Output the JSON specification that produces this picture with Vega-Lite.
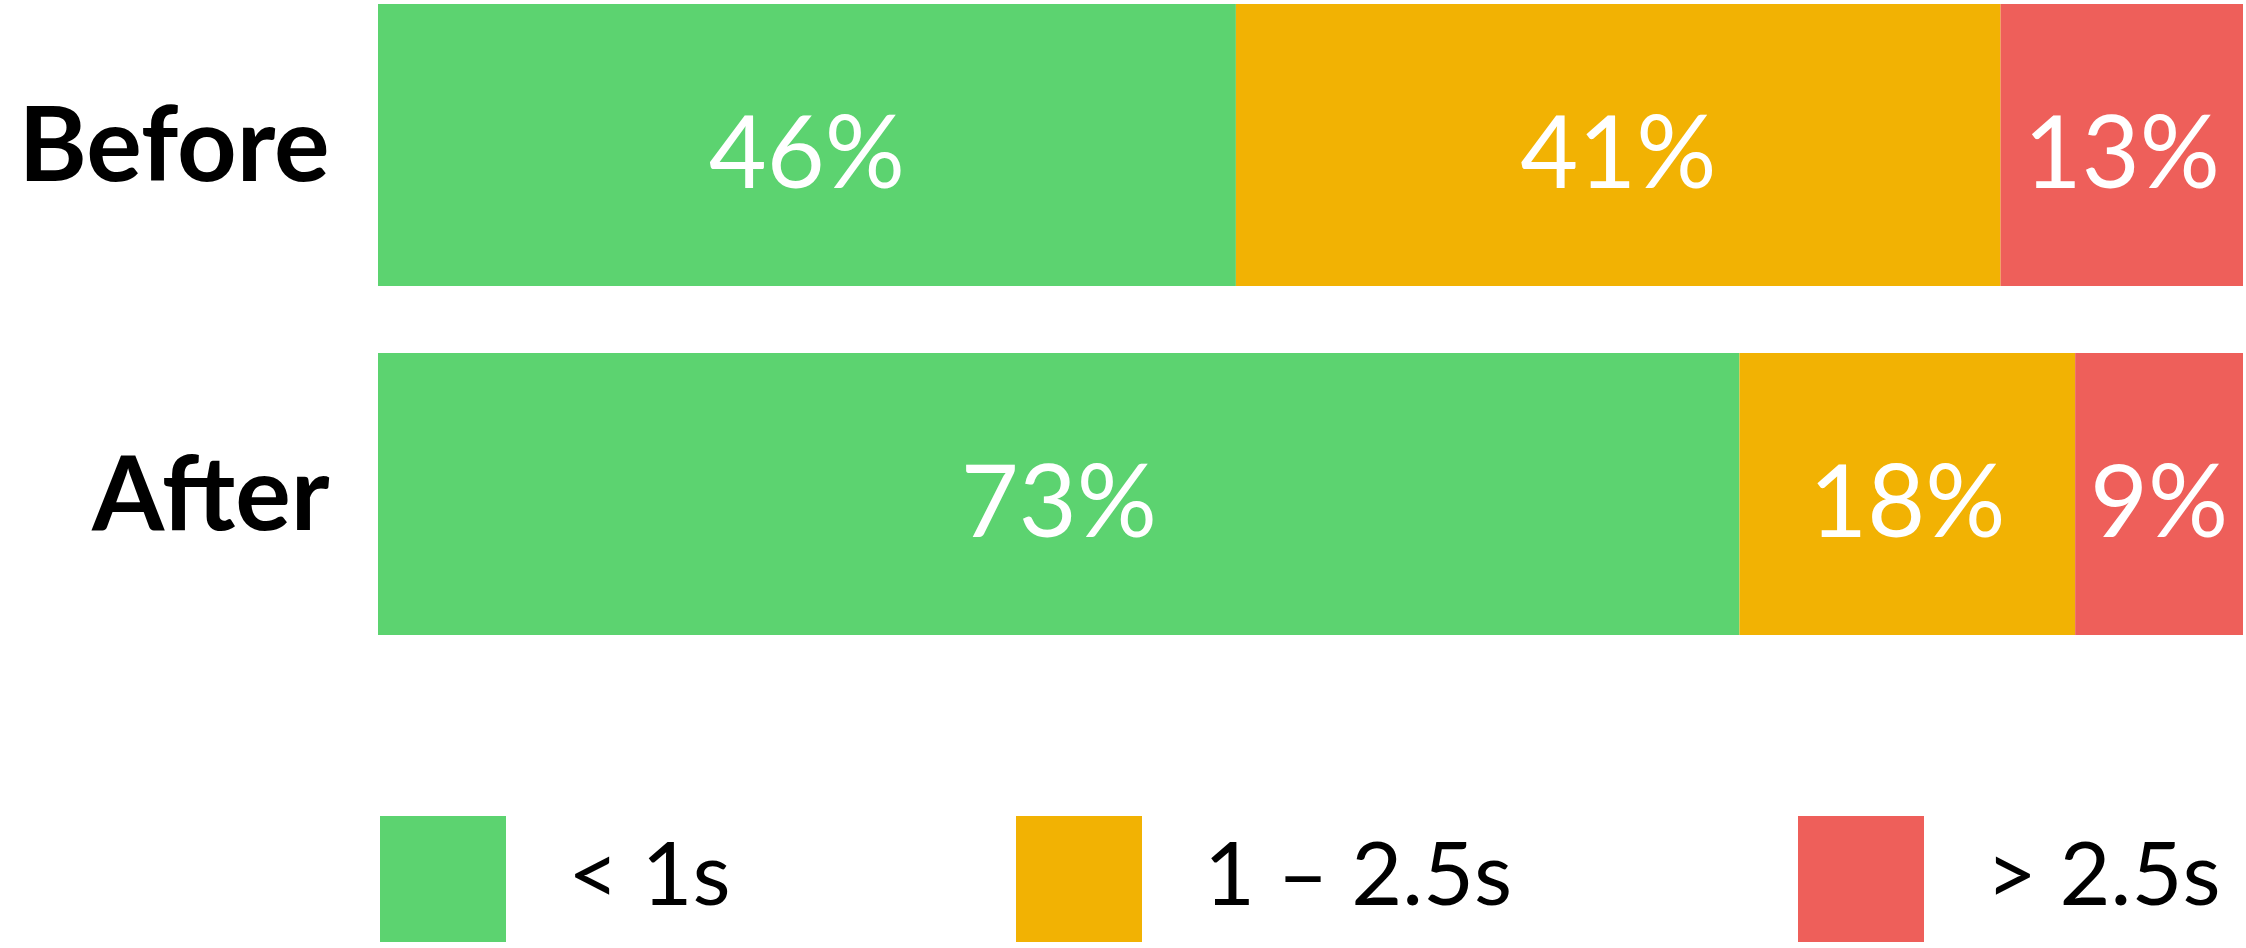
{
  "$schema": "https://vega.github.io/schema/vega-lite/v6.json",
  "autosize": {"type": "none"},
  "padding": {"left": 378, "top": 4, "right": 3, "bottom": 313},
  "width": 1865,
  "height": 631,
  "background": "white",
  "config": {"view": {"stroke": null}, "font": "Lato"},
  "data": {"values": [
    {"period": "Before", "bucket": "< 1s", "rank": 1, "share": 0.46},
    {"period": "Before", "bucket": "1 – 2.5s", "rank": 2, "share": 0.41},
    {"period": "Before", "bucket": "> 2.5s", "rank": 3, "share": 0.13},
    {"period": "After", "bucket": "< 1s", "rank": 1, "share": 0.73},
    {"period": "After", "bucket": "1 – 2.5s", "rank": 2, "share": 0.18},
    {"period": "After", "bucket": "> 2.5s", "rank": 3, "share": 0.09}
  ]},
  "transform": [
    {"stack": "share", "groupby": ["period"], "sort": [{"field": "rank"}], "as": ["x0", "x1"]}
  ],
  "encoding": {
    "y": {
      "field": "period", "type": "nominal", "sort": ["Before", "After"],
      "scale": {"paddingInner": 0.192, "paddingOuter": 0},
      "axis": {"title": null, "domain": false, "ticks": false, "labelFont": "Lato", "labelFontWeight": "bold", "labelFontSize": 104, "labelColor": "black", "labelPadding": 49, "labelLimit": 600, "labelOffset": 5}
    }
  },
  "layer": [
    {
      "mark": {"type": "bar", "cornerRadius": 0},
      "encoding": {
        "x": {"field": "x0", "type": "quantitative", "scale": {"domain": [0, 1], "nice": false, "zero": true}, "axis": null},
        "x2": {"field": "x1"},
        "color": {
          "field": "bucket", "type": "nominal",
          "scale": {"domain": ["< 1s", "1 – 2.5s", "> 2.5s"], "range": ["#5cd370", "#f2b203", "#ee5f5a"]},
          "legend": {
            "title": null, "orient": "none", "legendX": 2, "legendY": 812, "direction": "horizontal",
            "symbolType": "square", "symbolSize": 15876, "symbolStrokeWidth": 0, "symbolOpacity": 1,
            "labelFont": "Lato", "labelFontSize": 88, "labelColor": "black", "labelOffset": 62, "labelLimit": 600,
            "columnPadding": 285
          }
        }
      }
    },
    {
      "transform": [
        {"fold": ["x0", "x1"], "as": ["edge", "pos"]},
        {"aggregate": [{"op": "mean", "field": "pos", "as": "mid"}, {"op": "max", "field": "share", "as": "share"}], "groupby": ["period", "bucket"]}
      ],
      "mark": {"type": "text", "color": "white", "fontSize": 100, "fontWeight": 400, "font": "Lato", "align": "center", "baseline": "middle", "dy": 13},
      "encoding": {
        "x": {"field": "mid", "type": "quantitative"},
        "text": {"field": "share", "type": "quantitative", "format": ".0%"}
      }
    }
  ]
}
